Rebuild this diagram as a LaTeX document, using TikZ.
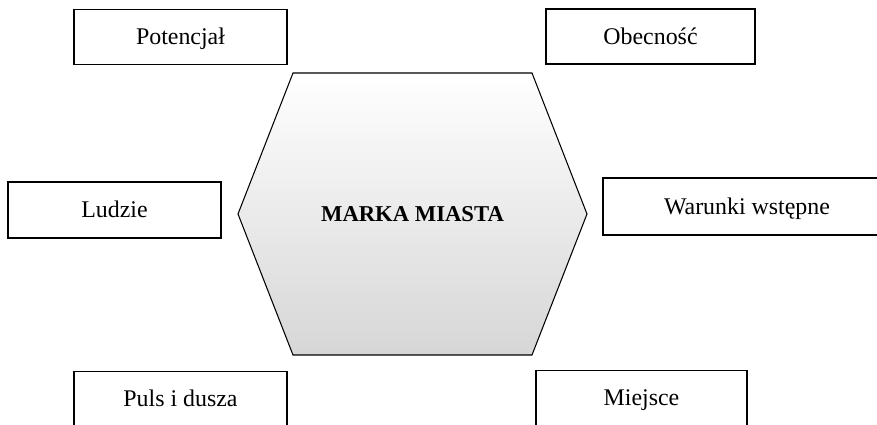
\documentclass[tikz,border=0pt]{standalone}
\usepackage{fontspec}
\setmainfont{Liberation Serif}
\usepackage{tikz}

\begin{document}
\begin{tikzpicture}[x=0.02cm,y=-0.02cm,
    factor/.style={shape=rectangle,draw=black,line width=0.6pt,inner sep=0pt,
        minimum height=55*0.02cm,text height=9pt,text depth=0pt,
        font=\fontsize{13.6}{16}\selectfont},
    brand/.style={draw=black,line width=0.6pt,top color=white,bottom color=black!16}]
    \useasboundingbox (0,0) rectangle (877,425);
    % hexagon in the middle
    \shadedraw[brand] (238,214) -- (293,73) -- (532,73) -- (587,214) -- (532,355) -- (293,355) -- cycle;
    \node[text height=8.6pt,text depth=0pt,font=\fontsize{12.9}{15}\selectfont\bfseries] (M) at (412.5,214) {MARKA MIASTA};
    % boxes round it
    \node[factor,minimum width=213*0.02cm] (P) at (180.5,37) {Potencjał};
    \node[factor,minimum width=209*0.02cm] (O) at (650.5,36.5) {Obecność};
    \node[factor,minimum width=213*0.02cm,minimum height=56*0.02cm] (L) at (114.5,210) {Ludzie};
    \node[factor,minimum width=288*0.02cm,minimum height=57*0.02cm] (W) at (747,206.5) {Warunki wstępne};
    \node[factor,minimum width=213*0.02cm] (D) at (180.5,399) {Puls i dusza};
    \node[factor,minimum width=211*0.02cm] (J) at (641.5,398) {Miejsce};
\end{tikzpicture}
\end{document}
